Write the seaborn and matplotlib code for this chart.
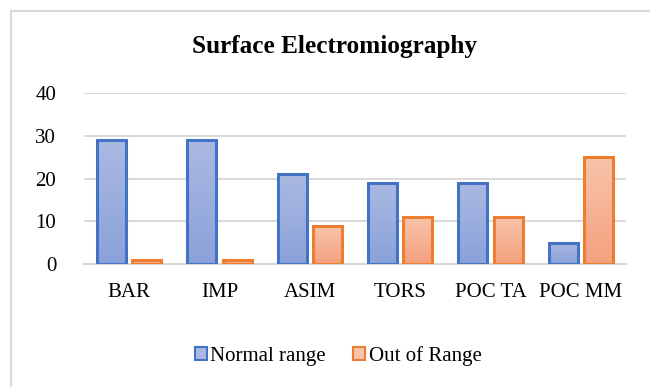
import numpy as np
import pandas as pd
import matplotlib
matplotlib.use("Agg")
import matplotlib.pyplot as plt
from matplotlib.patches import Rectangle
from matplotlib.colors import LinearSegmentedColormap
import seaborn as sns

categories = ["BAR", "IMP", "ASIM", "TORS", "POC TA", "POC MM"]
normal_range = [29, 29, 21, 19, 19, 5]
out_of_range = [1, 1, 9, 11, 11, 25]
series_names = ["Normal range", "Out of Range"]
title = "Surface Electromiography"

df = pd.DataFrame({
    "cat": categories * 2,
    "val": normal_range + out_of_range,
    "series": [series_names[0]] * len(categories) + [series_names[1]] * len(categories),
})

sns.set_theme(style="white")
plt.rcParams["font.family"] = ["Liberation Serif", "DejaVu Serif"]
plt.rcParams["text.color"] = "black"

edge_colors = {"Normal range": "#4472C4", "Out of Range": "#ED7D31"}
fill_top = {"Normal range": "#AAB9E1", "Out of Range": "#F8C4AA"}
fill_bot = {"Normal range": "#8AA2DA", "Out of Range": "#F4A17F"}

fig = plt.figure(figsize=(6.5, 3.87), dpi=100)
ax = fig.add_axes([84 / 650, 1 - 264 / 387, (626 - 84) / 650, (264 - 93) / 387])

sns.barplot(data=df, x="cat", y="val", hue="series", order=categories,
            hue_order=series_names, palette=edge_colors, width=0.78, gap=0.18,
            ax=ax, legend=False, saturation=1)

# gradient fill with colored edges
n = len(categories)
for i, p in enumerate(ax.patches[:2 * n]):
    s = series_names[i // n]
    p.set_edgecolor(edge_colors[s])
    p.set_linewidth(2.2)
    p.set_facecolor("none")
    p.set_zorder(3)
    x0, y0 = p.get_x(), p.get_y()
    w, h = p.get_width(), p.get_height()
    cmap = LinearSegmentedColormap.from_list("g", [fill_bot[s], fill_top[s]])
    grad = np.linspace(0, 1, 64).reshape(-1, 1)
    im = ax.imshow(grad, extent=(x0, x0 + w, y0, y0 + h), origin="lower",
                   cmap=cmap, aspect="auto", zorder=2)
    im.set_clip_path(p)

ax.set_xlim(-0.5, n - 0.5)
ax.set_ylim(0, 40)
ax.set_yticks([0, 10, 20, 30, 40])
ax.yaxis.grid(True, color="#D9D9D9", linewidth=1.4)
ax.set_axisbelow(True)
for side in ["top", "right", "left"]:
    ax.spines[side].set_visible(False)
ax.spines["bottom"].set_color("#D9D9D9")
ax.spines["bottom"].set_linewidth(1.6)
ax.spines["bottom"].set_zorder(1)
ax.tick_params(axis="both", length=0, labelsize=15, colors="black")
ax.tick_params(axis="y", pad=20)
ax.tick_params(axis="x", pad=14)
ax.set_xlabel("")
ax.set_ylabel("")

fig.text(334 / 650, 1 - 47 / 387, title, ha="center", va="center",
         fontsize=18.2, fontweight="bold", color="black")

# legend
handles = [Rectangle((0, 0), 1, 1, facecolor=fill_top[s], edgecolor=edge_colors[s], linewidth=1.5)
           for s in series_names]
leg = fig.legend(handles, series_names, loc="center", bbox_to_anchor=(338 / 650, 1 - 356 / 387),
                 ncol=2, frameon=False, fontsize=15, handlelength=0.6, handleheight=0.6,
                 handletextpad=0.15, columnspacing=1.3)
for t in leg.get_texts():
    t.set_color("black")

# outer chart border (extends past the right and bottom edges)
fig.add_artist(Rectangle((11 / 650, -0.1), 1.2, 1 - 11 / 387 + 0.1, transform=fig.transFigure,
                         fill=False, edgecolor="#D9D9D9", linewidth=1.5))

fig.savefig("out.png", dpi=100)
